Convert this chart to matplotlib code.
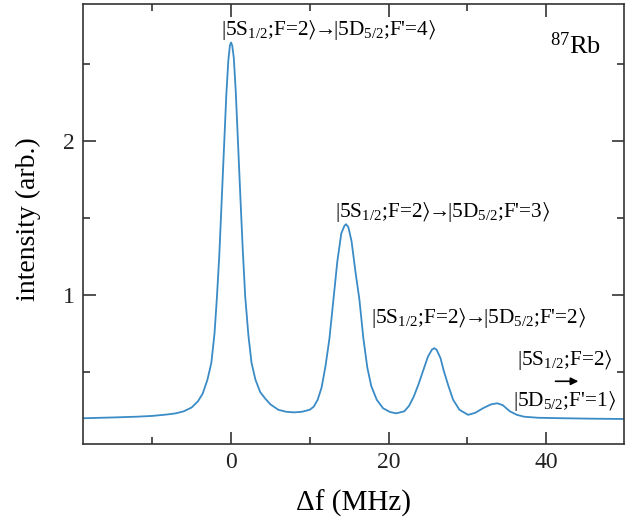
import matplotlib
matplotlib.use("Agg")
import matplotlib.pyplot as plt
from matplotlib.ticker import MultipleLocator

plt.rcParams['font.family'] = ['Liberation Serif', 'STIXGeneral', 'DejaVu Serif']
plt.rcParams['mathtext.fontset'] = 'custom'
plt.rcParams['mathtext.rm'] = 'Liberation Serif'
plt.rcParams['mathtext.it'] = 'Liberation Serif:italic'
plt.rcParams['mathtext.fallback'] = 'stix'

# detuning (MHz) and intensity (arb.)
freq = [-18.8, -15, -12, -10, -8, -7, -6, -5, -4.2, -3.6, -3.0, -2.5, -2.1, -1.8,
        -1.5, -1.2, -0.9, -0.6, -0.35, -0.15, 0, 0.15, 0.35, 0.6, 0.9, 1.2, 1.5,
        1.8, 2.2, 2.6, 3.1, 3.7, 4.3, 5.0, 6.0, 7.0, 8.0, 9.0, 10.0, 10.5, 11.0,
        11.5, 12.0, 12.5, 13.0, 13.5, 14.0, 14.4, 14.6, 14.9, 15.3, 15.8, 16.3,
        16.8, 17.3, 17.8, 18.5, 19.3, 20.2, 21.0, 22.0, 22.6, 23.2, 23.8, 24.4,
        25.0, 25.5, 25.8, 26.1, 26.6, 27.0, 27.6, 28.2, 29.0, 30.1, 31.0, 32.0,
        33.0, 33.8, 34.5, 35.4, 36.3, 37.2, 39.0, 42.0, 46.0, 50.0]
intensity = [0.20, 0.205, 0.21, 0.215, 0.225, 0.232, 0.245, 0.27, 0.31, 0.36,
             0.45, 0.56, 0.75, 0.98, 1.25, 1.60, 1.95, 2.30, 2.52, 2.62, 2.64,
             2.62, 2.54, 2.32, 1.97, 1.62, 1.28, 0.99, 0.74, 0.56, 0.45, 0.37,
             0.33, 0.29, 0.255, 0.242, 0.238, 0.242, 0.255, 0.275, 0.32, 0.40,
             0.54, 0.72, 0.97, 1.22, 1.40, 1.45, 1.46, 1.44, 1.35, 1.15, 0.97,
             0.72, 0.53, 0.41, 0.32, 0.265, 0.24, 0.232, 0.245, 0.28, 0.34, 0.42,
             0.51, 0.60, 0.645, 0.655, 0.645, 0.59, 0.51, 0.41, 0.32, 0.255,
             0.222, 0.235, 0.265, 0.29, 0.297, 0.285, 0.245, 0.222, 0.21, 0.203,
             0.20, 0.197, 0.195]

RA = r"$\rangle$"
ARR = r"$\!\!\rightarrow\!\!$"
labels = ["|5S$_{1/2}$;F=2" + RA + ARR + "|5D$_{5/2}$;F'=4" + RA,
          "|5S$_{1/2}$;F=2" + RA + ARR + "|5D$_{5/2}$;F'=3" + RA,
          "|5S$_{1/2}$;F=2" + RA + ARR + "|5D$_{5/2}$;F'=2" + RA]
label_last_top = "|5S$_{1/2}$;F=2" + RA
label_last_bot = "|5D$_{5/2}$;F'=1" + RA

fig = plt.figure(figsize=(6.35, 5.23), dpi=100)
ax = fig.add_axes([0.1307, 0.151, 0.852, 0.8414])

ax.plot(freq, intensity, color='#3a8bc6', lw=1.3)

ax.set_xlim(-18.8, 49.9)
ax.set_ylim(0.0325, 2.89)
ax.xaxis.set_major_locator(MultipleLocator(20))
ax.xaxis.set_minor_locator(MultipleLocator(10))
ax.yaxis.set_major_locator(MultipleLocator(1))
ax.yaxis.set_minor_locator(MultipleLocator(0.5))
ax.set_yticks([1, 2])
ax.tick_params(which='both', direction='in', top=True, right=True,
               labelsize=17, colors='#222222', width=1.1)
ax.tick_params(which='major', length=9, pad=6)
ax.tick_params(which='minor', length=5)
for s in ax.spines.values():
    s.set_linewidth(1.2)
    s.set_color('#333333')

ax.set_xlabel('Δf (MHz)', fontsize=21)
ax.set_ylabel('intensity (arb.)', fontsize=20)
ax.xaxis.set_label_coords(0.5, -0.103)
ax.yaxis.set_label_coords(-0.078, 0.51)

fs = 15.3
ax.text(12.45, 2.72, labels[0], ha='center', va='center', fontsize=fs)
ax.text(26.9, 1.54, labels[1], ha='center', va='center', fontsize=fs)
ax.text(31.4, 0.85, labels[2], ha='center', va='center', fontsize=fs)
ax.text(42.4, 0.575, label_last_top, ha='center', va='center', fontsize=fs)
ax.annotate('', xy=(44.1, 0.44), xytext=(41.2, 0.44),
            arrowprops=dict(arrowstyle='-|>', color='black', lw=1.2,
                            mutation_scale=11, shrinkA=0, shrinkB=0))
ax.text(42.4, 0.315, label_last_bot, ha='center', va='center', fontsize=fs)
ax.text(43.7, 2.62, r'$^{87}$Rb', ha='center', va='center', fontsize=19)

fig.savefig('out.png', dpi=100)
